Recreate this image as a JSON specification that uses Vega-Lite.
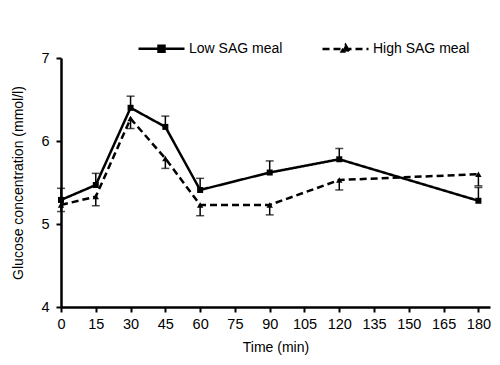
{
  "$schema": "https://vega.github.io/schema/vega-lite/v6.json",
  "autosize": "none",
  "width": 429,
  "height": 249,
  "padding": {"left": 61, "top": 58, "right": 10, "bottom": 58},
  "background": "white",
  "config": {
    "view": {"stroke": null},
    "font": "Liberation Sans",
    "axis": {
      "grid": false,
      "domainColor": "black",
      "domainWidth": 2.5,
      "tickColor": "black",
      "tickWidth": 2,
      "tickSize": 5,
      "labelColor": "black",
      "labelFont": "Liberation Sans",
      "labelFontSize": 14.5,
      "titleFont": "Liberation Sans",
      "titleFontSize": 14,
      "titleFontWeight": "normal",
      "titleColor": "black"
    }
  },
  "data": {
    "values": [
      {"t": 0, "series": "Low SAG meal", "mean": 5.29, "end": 5.43},
      {"t": 15, "series": "Low SAG meal", "mean": 5.47, "end": 5.61},
      {"t": 30, "series": "Low SAG meal", "mean": 6.40, "end": 6.54},
      {"t": 45, "series": "Low SAG meal", "mean": 6.17, "end": 6.30},
      {"t": 60, "series": "Low SAG meal", "mean": 5.41, "end": 5.55},
      {"t": 90, "series": "Low SAG meal", "mean": 5.62, "end": 5.76},
      {"t": 120, "series": "Low SAG meal", "mean": 5.78, "end": 5.91},
      {"t": 180, "series": "Low SAG meal", "mean": 5.28, "end": 5.44},
      {"t": 0, "series": "High SAG meal", "mean": 5.23, "end": 5.15},
      {"t": 15, "series": "High SAG meal", "mean": 5.33, "end": 5.22},
      {"t": 30, "series": "High SAG meal", "mean": 6.27, "end": 6.15},
      {"t": 45, "series": "High SAG meal", "mean": 5.79, "end": 5.67},
      {"t": 60, "series": "High SAG meal", "mean": 5.23, "end": 5.10},
      {"t": 90, "series": "High SAG meal", "mean": 5.23, "end": 5.11},
      {"t": 120, "series": "High SAG meal", "mean": 5.53, "end": 5.41},
      {"t": 180, "series": "High SAG meal", "mean": 5.60, "end": 5.46}
    ]
  },
  "encoding": {
    "x": {
      "field": "t", "type": "quantitative",
      "scale": {"domain": [0, 185], "nice": false},
      "axis": {"values": [0, 15, 30, 45, 60, 75, 90, 105, 120, 135, 150, 165, 180], "title": "Time (min)", "titlePadding": 10, "labelPadding": 5, "labelFlush": false}
    },
    "y": {
      "field": "mean", "type": "quantitative",
      "scale": {"domain": [4, 7], "nice": false, "zero": false},
      "axis": {"values": [4, 5, 6, 7], "title": "Glucose concentration (mmol/l)", "titlePadding": 15, "labelPadding": 7}
    }
  },
  "layer": [
    {
      "mark": {"type": "rule", "color": "black", "strokeWidth": 1.5},
      "encoding": {"y2": {"field": "end"}}
    },
    {
      "mark": {"type": "tick", "color": "black", "orient": "horizontal", "size": 8, "thickness": 1.5},
      "encoding": {"y": {"field": "end", "type": "quantitative"}}
    },
    {
      "mark": {"type": "line", "color": "black", "strokeWidth": 2.5},
      "encoding": {
        "strokeDash": {
          "field": "series", "type": "nominal",
          "scale": {"domain": ["Low SAG meal", "High SAG meal"], "range": [[1, 0], [7, 4]]},
          "legend": {
            "title": null,
            "orient": "none",
            "direction": "horizontal",
            "legendX": 76,
            "legendY": -34,
            "labelFontSize": 14,
            "labelFont": "Liberation Sans",
            "labelColor": "black",
            "labelOffset": 3,
            "columnPadding": 34,
            "symbolStrokeWidth": 2.5,
            "symbolStrokeColor": "black",
            "encode": {
              "symbols": {
                "update": {
                  "shape": {"signal": "datum.value == 'Low SAG meal' ? 'M-1,0H1M-0.13,-0.13H0.13V0.13H-0.13Z' : 'M-1,0H1M0,-0.17L0.16,0.11H-0.16Z'"},
                  "size": {"value": 2116},
                  "fill": {"value": "black"},
                  "stroke": {"value": "black"}
                }
              }
            }
          }
        }
      }
    },
    {
      "transform": [{"filter": "datum.series == 'Low SAG meal'"}],
      "mark": {"type": "point", "filled": true, "color": "black", "opacity": 1, "size": 36, "shape": "square"}
    },
    {
      "transform": [{"filter": "datum.series == 'High SAG meal'"}],
      "mark": {"type": "point", "filled": true, "color": "black", "opacity": 1, "size": 40, "shape": "triangle-up"}
    }
  ]
}
